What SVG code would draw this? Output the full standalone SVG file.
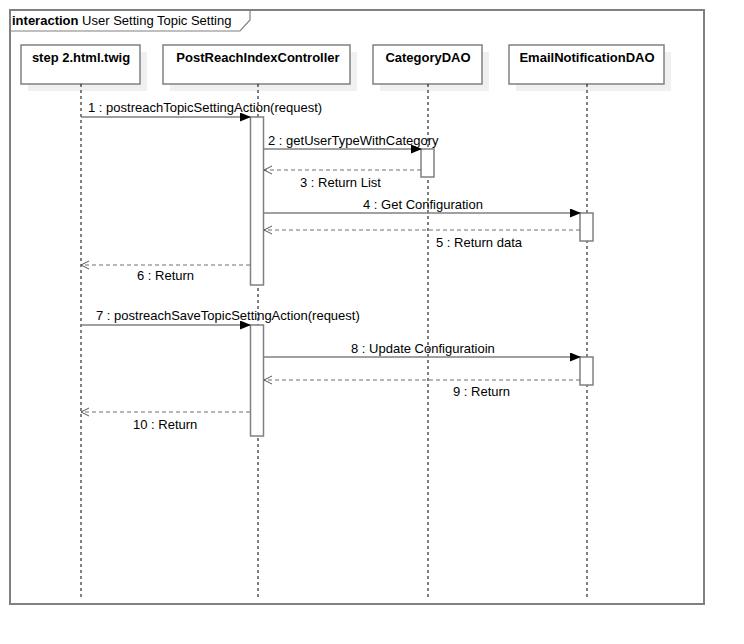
<svg xmlns="http://www.w3.org/2000/svg" width="744" height="644" viewBox="0 0 744 644">
  <defs>
    <marker id="sync" markerWidth="11" markerHeight="9" refX="10" refY="4.5" orient="auto" markerUnits="userSpaceOnUse">
      <path d="M0,0 L11,4.5 L0,9 z" fill="#000"/>
    </marker>
    <marker id="ret" markerWidth="10" markerHeight="10" refX="9" refY="5" orient="auto" markerUnits="userSpaceOnUse">
      <path d="M1,1 L9,5 L1,9" fill="none" stroke="#555" stroke-width="1"/>
    </marker>
  </defs>
  <style>
    text { font-family: "Liberation Sans", Arial, sans-serif; font-size: 13px; fill: #000; }
    .head { font-weight: bold; text-anchor: middle; }
    .box { fill: #fff; stroke: #808080; stroke-width: 1.5; }
    .shadow { fill: #f0f0f0; stroke: none; }
    .life { stroke: #000; stroke-width: 1; stroke-dasharray: 3,3; fill: none; }
    .act { fill: #fff; stroke: #808080; stroke-width: 1.5; }
    .msg { stroke: #808080; stroke-width: 1.5; fill: none; }
    .back { stroke: #707070; stroke-width: 1.2; stroke-dasharray: 4,3; fill: none; }
  </style>
  <rect width="744" height="644" fill="#fff"/>

  <!-- frame -->
  <g id="frame">
    <rect x="10" y="10" width="694" height="594" fill="none" stroke="#808080" stroke-width="2"/>
    <path d="M10,31 L240,31 L250,20 L250,10" fill="none" stroke="#808080" stroke-width="1.2"/>
    <text x="12" y="25" font-size="14"><tspan font-weight="bold">interaction</tspan> User Setting Topic Setting</text>
  </g>

  <!-- lifelines -->
  <g id="step2">
    <rect class="shadow" x="28" y="52" width="119" height="39"/>
    <rect class="box" x="21" y="45" width="119" height="39"/>
    <text class="head" x="81" y="62">step 2.html.twig</text>
    <line class="life" x1="81" y1="84" x2="81" y2="598"/>
  </g>
  <g id="controller">
    <rect class="shadow" x="170" y="52" width="187" height="39"/>
    <rect class="box" x="163" y="45" width="187" height="39"/>
    <text class="head" x="258" y="62">PostReachIndexController</text>
    <line class="life" x1="258" y1="84" x2="258" y2="598"/>
  </g>
  <g id="categoryDao">
    <rect class="shadow" x="380" y="52" width="109" height="39"/>
    <rect class="box" x="373" y="45" width="109" height="39"/>
    <text class="head" x="428" y="62">CategoryDAO</text>
    <line class="life" x1="428" y1="84" x2="428" y2="598"/>
  </g>
  <g id="emailDao">
    <rect class="shadow" x="516" y="52" width="155" height="39"/>
    <rect class="box" x="509" y="45" width="155" height="39"/>
    <text class="head" x="587" y="62">EmailNotificationDAO</text>
    <line class="life" x1="587" y1="84" x2="587" y2="598"/>
  </g>

  <!-- activation bars -->
  <g id="activations">
    <rect class="act" x="250.5" y="117" width="13" height="168"/>
    <rect class="act" x="421" y="149" width="13" height="28"/>
    <rect class="act" x="580" y="213" width="13" height="28"/>
    <rect class="act" x="250.5" y="325" width="13" height="111"/>
    <rect class="act" x="580" y="357" width="13" height="28"/>
  </g>

  <!-- messages -->
  <g id="connectors">
    <line class="msg" x1="81" y1="117" x2="250" y2="117" marker-end="url(#sync)"/>
    <text x="88" y="112">1 : postreachTopicSettingAction(request)</text>

    <line class="msg" x1="264" y1="149" x2="421" y2="149" marker-end="url(#sync)"/>
    <text x="268" y="145">2 : getUserTypeWithCategory</text>

    <line class="back" x1="421" y1="170" x2="264" y2="170" marker-end="url(#ret)"/>
    <text x="300" y="187">3 : Return List</text>

    <line class="msg" x1="264" y1="213" x2="580" y2="213" marker-end="url(#sync)"/>
    <text x="363" y="209">4 : Get Configuration</text>

    <line class="back" x1="580" y1="230" x2="264" y2="230" marker-end="url(#ret)"/>
    <text x="436" y="247">5 : Return data</text>

    <line class="back" x1="250" y1="265" x2="81" y2="265" marker-end="url(#ret)"/>
    <text x="137" y="280">6 : Return</text>

    <line class="msg" x1="81" y1="325" x2="250" y2="325" marker-end="url(#sync)"/>
    <text x="96" y="320">7 : postreachSaveTopicSettingAction(request)</text>

    <line class="msg" x1="264" y1="357" x2="580" y2="357" marker-end="url(#sync)"/>
    <text x="351" y="353">8 : Update Configuratioin</text>

    <line class="back" x1="580" y1="380" x2="264" y2="380" marker-end="url(#ret)"/>
    <text x="453" y="396">9 : Return</text>

    <line class="back" x1="250" y1="412" x2="81" y2="412" marker-end="url(#ret)"/>
    <text x="133" y="429">10 : Return</text>
  </g>
</svg>
